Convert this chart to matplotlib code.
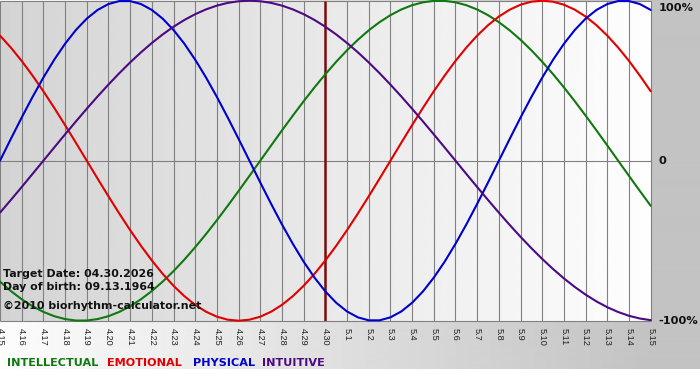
import matplotlib
matplotlib.use("Agg")
import matplotlib.pyplot as plt
import numpy as np

# ---------------- data ---------------- #
day_labels = ["4.15", "4.16", "4.17", "4.18", "4.19", "4.20", "4.21", "4.22",
              "4.23", "4.24", "4.25", "4.26", "4.27", "4.28", "4.29", "4.30",
              "5.1", "5.2", "5.3", "5.4", "5.5", "5.6", "5.7", "5.8", "5.9",
              "5.10", "5.11", "5.12", "5.13", "5.14", "5.15"]
target_label = "4.30"

# curve values sampled every half day, from 4.15 to 5.15
intellectual = [-0.7557, -0.8146, -0.8660, -0.9096, -0.9450, -0.9718, -0.9898,
                -0.9989, -0.9989, -0.9898, -0.9718, -0.9450, -0.9096, -0.8660,
                -0.8146, -0.7557, -0.6901, -0.6182, -0.5406, -0.4582, -0.3717,
                -0.2817, -0.1893, -0.0951, 0.0, 0.0951, 0.1893, 0.2817, 0.3717,
                0.4582, 0.5406, 0.6182, 0.6901, 0.7557, 0.8146, 0.8660, 0.9096,
                0.9450, 0.9718, 0.9898, 0.9989, 0.9989, 0.9898, 0.9718, 0.9450,
                0.9096, 0.8660, 0.8146, 0.7557, 0.6901, 0.6182, 0.5406, 0.4582,
                0.3717, 0.2817, 0.1893, 0.0951, 0.0, -0.0951, -0.1893, -0.2817]

emotional = [0.7818, 0.7071, 0.6235, 0.5320, 0.4339, 0.3303, 0.2225, 0.1120,
             0.0, -0.1120, -0.2225, -0.3303, -0.4339, -0.5320, -0.6235, -0.7071,
             -0.7818, -0.8467, -0.9010, -0.9439, -0.9749, -0.9937, -1.0, -0.9937,
             -0.9749, -0.9439, -0.9010, -0.8467, -0.7818, -0.7071, -0.6235,
             -0.5320, -0.4339, -0.3303, -0.2225, -0.1120, 0.0, 0.1120, 0.2225,
             0.3303, 0.4339, 0.5320, 0.6235, 0.7071, 0.7818, 0.8467, 0.9010,
             0.9439, 0.9749, 0.9937, 1.0, 0.9937, 0.9749, 0.9439, 0.9010, 0.8467,
             0.7818, 0.7071, 0.6235, 0.5320, 0.4339]

physical = [0.0, 0.1362, 0.2698, 0.3984, 0.5196, 0.6311, 0.7308, 0.8170, 0.8879,
            0.9423, 0.9791, 0.9977, 0.9977, 0.9791, 0.9423, 0.8879, 0.8170,
            0.7308, 0.6311, 0.5196, 0.3984, 0.2698, 0.1362, 0.0, -0.1362,
            -0.2698, -0.3984, -0.5196, -0.6311, -0.7308, -0.8170, -0.8879,
            -0.9423, -0.9791, -0.9977, -0.9977, -0.9791, -0.9423, -0.8879,
            -0.8170, -0.7308, -0.6311, -0.5196, -0.3984, -0.2698, -0.1362, 0.0,
            0.1362, 0.2698, 0.3984, 0.5196, 0.6311, 0.7308, 0.8170, 0.8879,
            0.9423, 0.9791, 0.9977, 0.9977, 0.9791, 0.9423]

intuitive = [-0.3247, -0.2455, -0.1646, -0.0826, 0.0, 0.0826, 0.1646, 0.2455,
             0.3247, 0.4017, 0.4759, 0.5469, 0.6142, 0.6773, 0.7357, 0.7891,
             0.8372, 0.8795, 0.9158, 0.9458, 0.9694, 0.9864, 0.9966, 1.0, 0.9966,
             0.9864, 0.9694, 0.9458, 0.9158, 0.8795, 0.8372, 0.7891, 0.7357,
             0.6773, 0.6142, 0.5469, 0.4759, 0.4017, 0.3247, 0.2455, 0.1646,
             0.0826, 0.0, -0.0826, -0.1646, -0.2455, -0.3247, -0.4017, -0.4759,
             -0.5469, -0.6142, -0.6773, -0.7357, -0.7891, -0.8372, -0.8795,
             -0.9158, -0.9458, -0.9694, -0.9864, -0.9966]

series_names = ["INTELLECTUAL", "EMOTIONAL", "PHYSICAL", "INTUITIVE"]
series_colors = ["#107810", "#e00000", "#0000cc", "#4b0a82"]
legend_x = [7, 107, 193, 262]

W, H = 700, 380
fig = plt.figure(figsize=(W / 100, H / 100), dpi=100)
fig.patch.set_facecolor("white")

# figure background: white -> gray horizontal gradient, white strip at bottom
bg = fig.add_axes([0, 11 / H, 1, 1 - 11 / H])
grad = np.concatenate([np.linspace(0.99, 0.765, 650), np.full(50, 0.765)])
bg.imshow(grad[None, :], cmap="gray", vmin=0, vmax=1, aspect="auto",
          extent=[0, 1, 0, 1], interpolation="bilinear")
bg.set_axis_off()

# ---------------- main plot ---------------- #
ax = fig.add_axes([0, 59.3 / H, 650.7 / W, 320 / H])
x = np.arange(len(day_labels))
ax.set_xlim(x[0], x[-1])
ax.set_ylim(-1, 1)

plot_grad = np.linspace(0.83, 0.995, 256)
ax.imshow(plot_grad[None, :], cmap="gray", vmin=0, vmax=1, aspect="auto",
          extent=[x[0], x[-1], -1, 1], interpolation="bilinear", zorder=0)

ax.vlines(x, -1, 1, colors="#808080", linewidth=0.8, zorder=1, clip_on=False)
ax.hlines([-1, 0, 1], x[0], x[-1], colors="#808080", linewidth=0.8, zorder=1,
          clip_on=False)

ti = day_labels.index(target_label)
ax.vlines(x[ti], -1, 1, colors="#7a0c0c", linewidth=1.8, zorder=2)

for vals, c in zip([intellectual, emotional, physical, intuitive], series_colors):
    t = np.linspace(x[0], x[-1], len(vals))
    ax.plot(t, vals, color=c, linewidth=1.5, zorder=3, clip_on=False,
            solid_capstyle="round", solid_joinstyle="round")

for s in ax.spines.values():
    s.set_visible(False)
ax.set_yticks([])
ax.set_xticks(x)
ax.set_xticklabels(day_labels, rotation=270, fontsize=6.6, color="#222222",
                   family="Liberation Sans")
ax.tick_params(axis="x", length=0, pad=5)

# right side percent labels
for yv, txt, va, dy in [(1, "100%", "top", -1.5), (0, "0", "center", 0),
                        (-1, "-100%", "center", 0)]:
    ax.annotate(txt, xy=(1, yv), xycoords=("axes fraction", "data"),
                xytext=(5.5, dy), textcoords="offset points",
                va=va, ha="left", fontsize=8.2, fontweight="bold",
                color="#111111", family="DejaVu Sans", annotation_clip=False)

# info text
info = ["Target Date: 04.30.2026", "Day of birth: 09.13.1964",
        "\u00a92010 biorhythm-calculator.net"]
for txt, yb in zip(info, [277, 289.5, 309]):
    fig.text(3 / W, 1 - yb / H, txt, fontsize=7.9, fontweight="bold",
             color="#111111", family="DejaVu Sans", va="baseline", zorder=10)

# legend
for name, c, lx in zip(series_names, series_colors, legend_x):
    fig.text(lx / W, 1 - 366 / H, name, fontsize=8.1, fontweight="bold",
             color=c, family="DejaVu Sans", va="baseline")

fig.savefig("out.png", dpi=100)
